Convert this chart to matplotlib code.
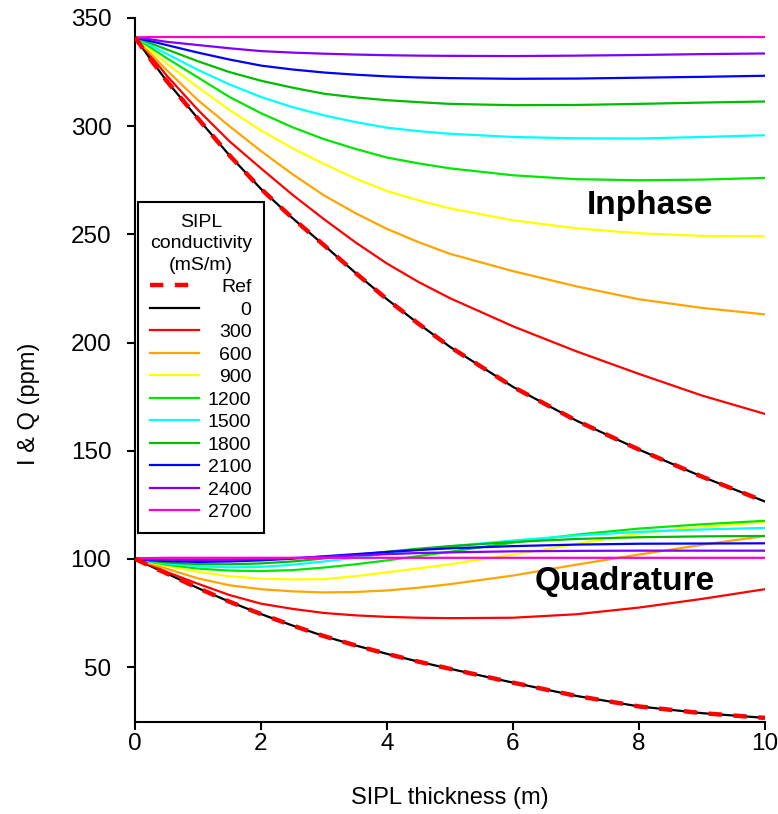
import matplotlib
matplotlib.use("Agg")
import matplotlib.pyplot as plt

plt.rcParams["font.family"] = ["Liberation Sans", "DejaVu Sans"]

# SIPL thickness (m)
thick = [0, 0.25, 0.5, 1, 1.5, 2, 2.5, 3, 3.5, 4, 4.5, 5, 6, 7, 8, 9, 10]

# conductivities (mS/m) and colours, same order as the legend
cond = ["0", "300", "600", "900", "1200", "1500", "1800", "2100", "2400", "2700"]
colors = ["black", "#ff0000", "#ffa500", "#ffff00", "#00e600",
          "#00ffff", "#00bb00", "#0000ff", "#8000ff", "#ff00cc"]

# reference model (no SIPL)
ref_inphase = [341, 330.8, 321, 303.5, 286.5, 271, 257.5, 245, 232.2, 220, 208.7, 198,
	179.5, 164, 150.5, 138, 126.5]
ref_quad = [100, 96.6, 93.3, 86.5, 80.2, 74.5, 69.2, 64.3, 60, 56.1, 52.5, 49.2,
	42.8, 36.7, 31.8, 28.7, 26.5]

inphase = [
	[341, 330.8, 321, 303.5, 286.5, 271, 257.5, 245, 232.2, 220, 208.7, 198, 179.5, 164, 150.5, 138, 126.5],
	[341, 332.5, 323.5, 307.5, 293, 280.5, 268.3, 257, 246.3, 236.5, 228, 220.5, 207.5, 196, 185.5, 175.5, 167],
	[341, 333.5, 326, 312, 300, 288.5, 277.8, 268, 259.8, 252.5, 246.4, 241, 233, 226, 220, 216, 213],
	[341, 335, 329, 318, 307.5, 298, 289.8, 282.5, 275.8, 270, 265.7, 262, 256.5, 252.8, 250.5, 249.3, 249.1],
	[341, 336.3, 331.5, 322.5, 313.5, 306, 299.5, 294, 289.5, 285.5, 282.8, 280.5, 277.3, 275.5, 275, 275.3, 276.1],
	[341, 337.3, 333.5, 326, 319.3, 313.5, 308.8, 305, 301.9, 299.3, 297.7, 296.5, 295, 294.4, 294.3, 295, 295.8],
	[341, 338.3, 335.5, 330, 325, 321, 317.8, 315, 313.3, 312, 311.1, 310.3, 309.7, 309.8, 310.3, 310.9, 311.4],
	[341, 339.3, 337.5, 334, 330.8, 328, 326.2, 324.8, 323.8, 323, 322.5, 322.2, 321.9, 322, 322.4, 322.8, 323.3],
	[341, 340.1, 339, 337.5, 336, 334.7, 334, 333.5, 333.1, 332.8, 332.6, 332.5, 332.4, 332.6, 332.9, 333.3, 333.6],
	[341, 341.2, 341.2, 341.2, 341.2, 341.2, 341.2, 341.2, 341.2, 341.2, 341.2, 341.2, 341.2, 341.2, 341.2, 341.2, 341.2],
]

quadrature = [
	[100, 96.6, 93.3, 86.5, 80.2, 74.5, 69.2, 64.3, 60, 56.1, 52.5, 49.2, 42.8, 36.7, 31.8, 28.7, 26.5],
	[100, 97, 94, 88.5, 83.3, 79.3, 76.9, 75, 73.9, 73.2, 72.8, 72.6, 72.8, 74.4, 77.5, 81.5, 86],
	[100, 97.7, 95.5, 91, 87.8, 86, 85, 84.5, 84.7, 85.4, 86.7, 88.3, 92.3, 97.3, 102, 106.5, 110.6],
	[100, 98.3, 96.7, 94, 92, 90.8, 90.5, 90.6, 92, 93.8, 95.6, 97.5, 102, 106.8, 111.8, 114.8, 117],
	[100, 98.6, 97.3, 95.5, 94.6, 94.4, 94.8, 96, 97.5, 99.3, 101.3, 103.3, 107.5, 111.2, 114, 116, 117.6],
	[100, 98.8, 97.8, 96.6, 96.1, 96.3, 97.3, 98.8, 100.6, 102.5, 104.2, 105.8, 108.5, 110.8, 112.5, 113.6, 114.3],
	[100, 99.1, 98.3, 97.6, 97.5, 97.9, 98.8, 100.2, 101.8, 103.3, 104.7, 105.9, 107.8, 109.2, 110, 110.4, 110.6],
	[100, 99.4, 99, 98.6, 98.8, 99.3, 100.1, 101.2, 102.2, 103.2, 104.1, 104.9, 105.9, 106.6, 107, 107.1, 107.2],
	[100, 99.8, 99.6, 99.5, 99.6, 100, 100.4, 101, 101.6, 102.2, 102.7, 103, 103.5, 103.7, 103.8, 103.8, 103.8],
	[100.3, 100.4, 100.5, 100.5, 100.5, 100.5, 100.5, 100.5, 100.5, 100.5, 100.5, 100.5, 100.5, 100.5, 100.5, 100.5, 100.5],
]

fig = plt.figure(figsize=(7.78, 8.14), dpi=100)
ax = fig.add_axes([0.1735, 0.113, 0.8098, 0.8649])

handles = []
for i in range(len(cond)):
	ax.plot(thick, quadrature[i], color=colors[i], lw=1.6)
	h, = ax.plot(thick, inphase[i], color=colors[i], lw=1.6, label=cond[i])
	handles.append(h)

ref, = ax.plot(thick, ref_inphase, color="#ff0000", lw=3.2, dashes=(3, 2.6),
	label="Ref", zorder=3)
ax.plot(thick, ref_quad, color="#ff0000", lw=3.2, dashes=(3, 2.6), zorder=3)

ax.text(8.17, 263.5, "Inphase", fontsize=24, fontweight="bold", ha="center", va="center")
ax.text(7.78, 89.5, "Quadrature", fontsize=24, fontweight="bold", ha="center", va="center")

ax.set_xlim(0, 10)
ax.set_ylim(24.6, 350)
ax.set_xticks([0, 2, 4, 6, 8, 10])
ax.set_yticks([50, 100, 150, 200, 250, 300, 350])
ax.set_xlabel("SIPL thickness (m)", fontsize=17)
ax.set_ylabel("I & Q (ppm)", fontsize=17)
ax.xaxis.set_label_coords(0.5, -0.093)
ax.yaxis.set_label_coords(-0.151, 0.452)
ax.tick_params(direction="out", length=6, width=1.5, labelsize=17.5)
ax.tick_params(axis="x", pad=2)
ax.tick_params(axis="y", pad=11)
for side in ["top", "right"]:
	ax.spines[side].set_visible(False)
for side in ["left", "bottom"]:
	ax.spines[side].set_linewidth(1.5)

leg = ax.legend([ref] + handles, ["Ref"] + cond,
	title="SIPL\nconductivity\n(mS/m)", fontsize=14, title_fontsize=14,
	loc="upper left", bbox_to_anchor=(0.005, 0.7386), borderaxespad=0,
	fancybox=False, framealpha=1, edgecolor="black", handlelength=2.5,
	labelspacing=0.25, handletextpad=0.45, borderpad=0.6)
leg.get_frame().set_linewidth(1.5)
leg.get_title().set_multialignment("center")
leg.get_title().set_linespacing(1.35)

# right align the legend labels like in the original
fig.canvas.draw()
texts = leg.get_texts()
widths = [t.get_window_extent().width for t in texts]
wmax = max(widths)
for t, w in zip(texts, widths):
	t.set_position((wmax - w, 0))

fig.savefig("out.png", dpi=100)
